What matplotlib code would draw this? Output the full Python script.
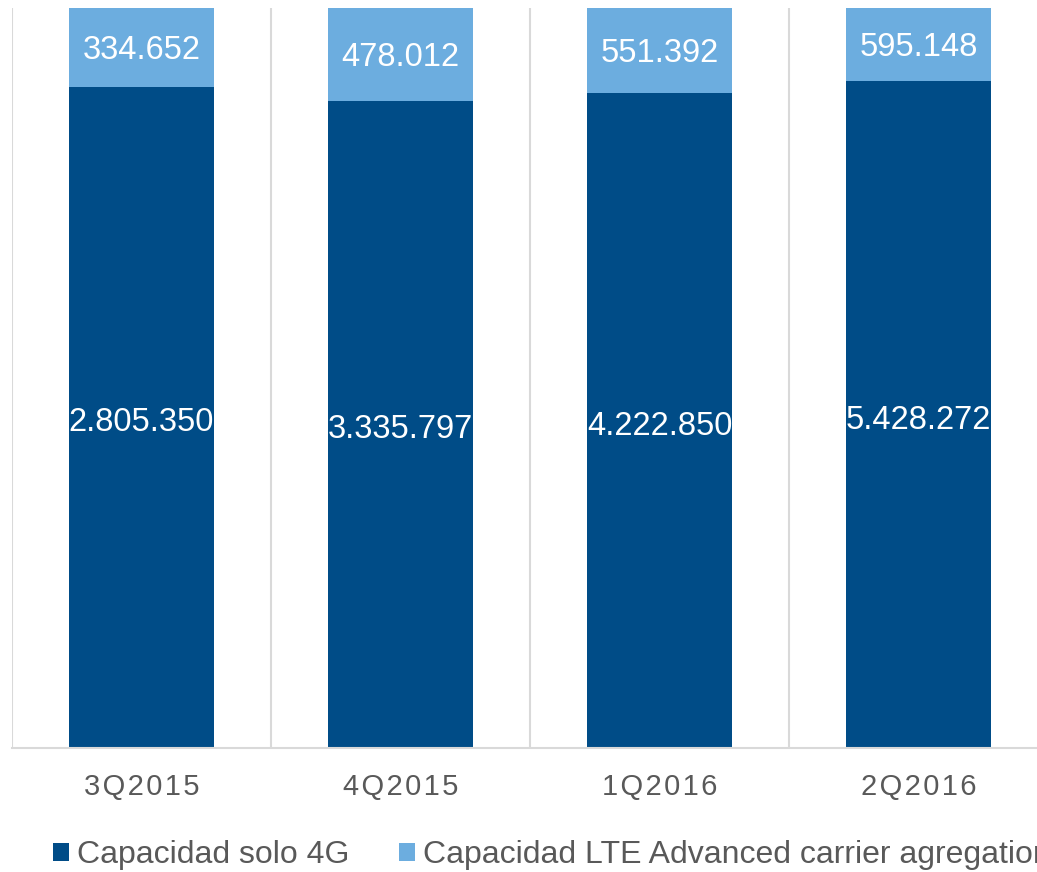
import matplotlib.pyplot as plt
import numpy as np

trimestres = ["3Q2015", "4Q2015", "1Q2016", "2Q2016"]
solo_4g = [2805350, 3335797, 4222850, 5428272]
lte_ca = [334652, 478012, 551392, 595148]
nombres = ["Capacidad solo 4G", "Capacidad LTE Advanced carrier agregation"]

plt.rcParams['font.family'] = ['Liberation Sans', 'DejaVu Sans']

def fmt(v):
    return "{:,}".format(v).replace(",", ".")

def espaciado(s):
    return "\u200a".join(s)

oscuro = "#004C87"
claro = "#6CADDF"
gris = "#D9D9D9"

total = np.array(solo_4g) + np.array(lte_ca)
p1 = np.array(solo_4g) / total
p2 = np.array(lte_ca) / total

fig = plt.figure(figsize=(10.37, 8.72), dpi=100)
ax = fig.add_axes([12 / 1037, 124 / 872, 1036 / 1037, 740 / 872])

x = np.arange(len(trimestres))
b1 = ax.bar(x, p1, width=0.56, color=oscuro, label=nombres[0])
b2 = ax.bar(x, p2, bottom=p1, width=0.56, color=claro, label=nombres[1])

for i in range(len(x)):
    ax.annotate(fmt(solo_4g[i]), (x[i], p1[i] / 2), xytext=(0, -4),
                textcoords='offset points', ha='center', va='center',
                color='white', fontsize=23.5)
    ax.annotate(fmt(lte_ca[i]), (x[i], p1[i] + p2[i] / 2), xytext=(0, -2),
                textcoords='offset points', ha='center', va='center',
                color='white', fontsize=23.5)

ax.set_xlim(-0.5, 3.5)
ax.set_ylim(0, 1)
for s in np.arange(-0.5, 4, 1):
    ax.axvline(s, color=gris, lw=1.5, zorder=0)
for lado in ['top', 'right', 'left']:
    ax.spines[lado].set_visible(False)
ax.spines['bottom'].set_color(gris)
ax.spines['bottom'].set_linewidth(1.5)
ax.set_yticks([])
ax.set_xticks(x)
ax.set_xticklabels([espaciado(t) for t in trimestres], fontsize=21, color='#595959')
ax.tick_params(axis='x', length=0, pad=18)

fig.legend(handles=[b1, b2], loc='center left', bbox_to_anchor=(53 / 1037, 1 - 855 / 872),
           ncol=2, frameon=False, fontsize=23, labelcolor='#595959',
           handlelength=0.5, handleheight=0.5, handletextpad=0.25,
           columnspacing=1.55, borderpad=0, borderaxespad=0)

fig.savefig("out.png", dpi=100)
